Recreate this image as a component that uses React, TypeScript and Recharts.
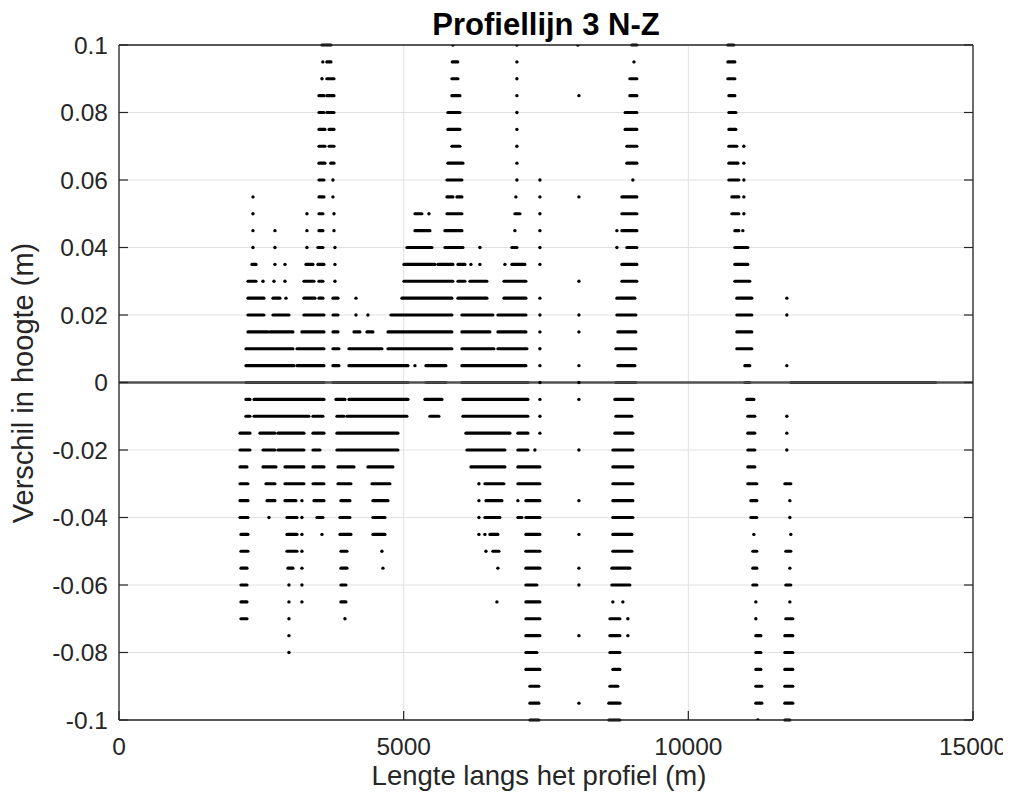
import React from 'react';
import { ScatterChart, Scatter, XAxis, YAxis, CartesianGrid, ReferenceLine } from 'recharts';

type Run = number | [number, number];

const titleText = 'Profiellijn 3 N-Z';
const xLabelText = 'Lengte langs het profiel (m)';
const yLabelText = 'Verschil in hoogte (m)';
const xTicks = [0, 5000, 10000, 15000];
const yTicks = [-0.1, -0.08, -0.06, -0.04, -0.02, 0, 0.02, 0.04, 0.06, 0.08, 0.1];

// Height-difference levels (m) and the along-profile distances (m) where points occur.
// A number is one point; a pair is a dense run of points between the two distances.
const p100: Run[] = [[3565, 3723], 5865, 6989, 8060, [9008, 9096], [10694, 10799]];
const p095: Run[] = [3580, [3650, 3723], [5855, 5950], 6989, 9045, [10694, 10817]];
const p090: Run[] = [3565, [3650, 3776], [5847, 5953], 6989, [8973, 9096], [10694, 10817]];
const p085: Run[] = [[3512, 3600], [3650, 3776], [5847, 5988], 6989, 8078, [8973, 9096], [10712, 10817]];
const p080: Run[] = [[3512, 3600], [3650, 3776], [5777, 5988], 6989, [8890, 9096], [10712, 10835]];
const p075: Run[] = [[3512, 3617], [3690, 3776], [5777, 5988], 6989, [8890, 9096], [10712, 10835]];
const p070: Run[] = [[3512, 3617], [3690, 3776], [5847, 5988], 6989, [8920, 9096], [10712, 10852], 10975];
const p065: Run[] = [[3512, 3617], [3720, 3776], [5777, 6041], 6989, [8920, 9096], [10712, 10870], 10975];
const p060: Run[] = [[3512, 3600], 3758, [5760, 6023], 6989, 7393, 9026, [10712, 10887], 10975];
const p055: Run[] = [2353, [3512, 3600], 3758, [5760, 5865], [5935, 6023], 6971, 7393, 8078, [8833, 9096], [10764, 10887], 10975];
const p050: Run[] = [2353, 3301, [3512, 3582], 3776, [5198, 5321], 5444, [5760, 6023], [6954, 7042], 7393, [8833, 9096], [10764, 10887], 10975];
const p045: Run[] = [2353, 2739, 3301, [3512, 3582], 3776, [5198, 5461], [5725, 6023], 6954, 7393, 8745, [8833, 9096], [10817, 10887], 10957];
const p040: Run[] = [2353, 2739, 3301, [3494, 3582], 3793, [5057, 5496], [5725, 6041], 6339, [6901, 6989], 7393, 8745, [8920, 9096], [10817, 11045]];
const p035: Run[] = [[2335, 2406], 2739, 2915, [3284, 3407], [3494, 3600], 3793, [5005, 5549], [5602, 5865], [5953, 6076], 6181, 6339, 6778, [6901, 7129], 7393, [8833, 9096], [10817, 11045]];
const p030: Run[] = [[2265, 2406], 2529, 2722, 2915, [3248, 3424], [3512, 3582], 3793, [5005, 5865], [5953, 6076], [6164, 6462], [6761, 7147], 8078, [8833, 9096], [10817, 11080]];
const p025: Run[] = [[2265, 2546], [2704, 2827], 2933, [3248, 3442], [3512, 3582], [3758, 3846], 4162, [4969, 5847], [5953, 6462], [6761, 7147], 7393, [8745, 9061], [10852, 11115], 11730];
const p020: Run[] = [[2265, 2546], [2704, 2985], [3248, 3600], [3758, 3846], 4162, 4372, [4776, 5847], [6023, 6567], [6655, 7147], 7393, 8078, [8745, 9078], [10852, 11115], 11730];
const p015: Run[] = [[2265, 2616], [2652, 3055], [3213, 3600], [3758, 3846], [4127, 4232], [4355, 4460], [4724, 5847], [6023, 6515], [6655, 7147], 7393, 8078, [8762, 9078], [10852, 11115]];
const p010: Run[] = [[2230, 3055], [3126, 3600], [3758, 3863], [4039, 4618], [4724, 5847], [6023, 6585], [6655, 7165], 7393, [8727, 9078], [10852, 11115]];
const p005: Run[] = [[2230, 3073], [3126, 3600], [3758, 3863], [4039, 5075], 5198, [5391, 5742], [6023, 7147], 7393, 8078, [8762, 9061], [10993, 11080], 11730];
const z000: Run[] = [[2230, 3600], [3758, 5075], [5391, 5742], [6023, 7182], 7393, 8078, [8727, 9078], [10993, 11080], [11800, 14347]];
const m005: Run[] = [[2230, 2300], [2371, 3600], [3811, 3969], [4039, 5075], [5373, 5672], [6041, 7182], 7393, 8078, [8710, 9026], [11028, 11151]];
const m010: Run[] = [[2230, 2300], [2371, 3336], [3407, 3582], [3828, 3951], [4004, 5057], [5461, 5619], [6041, 7182], 7393, [8727, 9008], [11045, 11168], 11730];
const m015: Run[] = [[2125, 2300], [2476, 2739], [2792, 3248], [3407, 3600], [3828, 4899], [6093, 6866], [7006, 7182], 7393, [8710, 9026], [11045, 11168], 11730];
const m020: Run[] = [[2125, 2300], [2529, 2739], [2792, 3248], [3407, 3530], [3828, 4899], [6111, 6778], [7006, 7182], 7305, 8078, [8674, 9026], [11045, 11168], 11730];
const m025: Run[] = [[2125, 2248], [2529, 2757], [2915, 3248], [3407, 3600], [3846, 4127], [4372, 4811], [6181, 6778], [7006, 7393], [8674, 9026], [11045, 11168]];
const m030: Run[] = [[2125, 2265], [2581, 2739], [2915, 3248], [3407, 3600], [3846, 4074], [4443, 4759], 6322, [6427, 6761], [7006, 7393], [8674, 9026], [11045, 11203], [11695, 11800]];
const m035: Run[] = [[2125, 2265], [2599, 2739], [2915, 3108], 3213, [3424, 3600], [3898, 4056], [4460, 4724], 6322, [6445, 6725], 7006, [7147, 7393], 8078, [8674, 9026], [11098, 11203], 11783];
const m040: Run[] = [[2125, 2265], 2634, [2950, 3126], 3213, [3477, 3582], [3881, 4056], [4460, 4671], 6322, [6427, 6690], [7006, 7077], [7147, 7393], [8674, 9026], [11098, 11203], 11783];
const m045: Run[] = [[2142, 2265], [2950, 3126], 3213, 3565, [3881, 4074], [4460, 4671], 6322, 6427, [6515, 6655], [7147, 7393], 8078, [8674, 9008], 11151, 11800];
const m050: Run[] = [[2142, 2265], [2950, 3126], 3213, [3898, 4004], 4618, 6445, [6567, 6673], [7147, 7393], [8674, 9008], [11133, 11203], [11712, 11800]];
const m055: Run[] = [[2142, 2248], [2968, 3055], 3213, [3898, 4004], 4636, 6655, [7147, 7393], 8078, [8657, 8973], [11133, 11203], 11783];
const m060: Run[] = [[2142, 2248], 2985, 3213, [3898, 3986], [7147, 7340], 8078, [8657, 8973], [11133, 11203], [11712, 11800]];
const m065: Run[] = [[2142, 2248], 2985, 3213, [3898, 3986], 6638, [7147, 7393], 8674, 8850, 11186, 11783];
const m070: Run[] = [[2142, 2248], 2985, 3969, [7147, 7393], [8622, 8798], 8938, 11186, [11712, 11835]];
const m075: Run[] = [2985, [7147, 7393], 8078, [8622, 8798], 8938, [11186, 11274], [11695, 11835]];
const m080: Run[] = [2985, [7147, 7340], [8622, 8798], [11186, 11274], [11695, 11835]];
const m085: Run[] = [[7147, 7393], [8674, 8798], [11186, 11274], [11695, 11835]];
const m090: Run[] = [[7217, 7375], [8622, 8762], [11186, 11290], [11695, 11835]];
const m095: Run[] = [[7217, 7375], 8078, [8604, 8798], [11186, 11290], [11695, 11835]];
const m100: Run[] = [[7217, 7375], [8604, 8798], 11221, [11695, 11783]];

const levelValues = [
  0.1, 0.095, 0.09, 0.085, 0.08, 0.075, 0.07, 0.065, 0.06, 0.055, 0.05, 0.045, 0.04, 0.035, 0.03, 0.025, 0.02, 0.015, 0.01, 0.005,
  0,
  -0.005, -0.01, -0.015, -0.02, -0.025, -0.03, -0.035, -0.04, -0.045, -0.05, -0.055, -0.06, -0.065, -0.07, -0.075, -0.08, -0.085, -0.09, -0.095, -0.1,
];
const levelRuns = [
  p100, p095, p090, p085, p080, p075, p070, p065, p060, p055, p050, p045, p040, p035, p030, p025, p020, p015, p010, p005,
  z000,
  m005, m010, m015, m020, m025, m030, m035, m040, m045, m050, m055, m060, m065, m070, m075, m080, m085, m090, m095, m100,
];

const singles: { x: number; y: number }[] = [];
const segments: { y: number; x1: number; x2: number }[] = [];
levelValues.forEach((y, i) => {
  levelRuns[i].forEach((r) => {
    if (Array.isArray(r)) segments.push({ y, x1: r[0], x2: r[1] });
    else singles.push({ x: r, y });
  });
});

const FONT = '"Liberation Sans", Arial, Helvetica, sans-serif';
const AX = '#262626';
const W = 995;
const H = 780;
const TICK_FS = 24.5;

const LeftTick = (props: any) => {
  const { x, y, payload } = props;
  return (
    <g>
      <line x1={x} y1={y} x2={x + 9} y2={y} stroke={AX} strokeWidth={1.2} />
      <text x={x - 11} y={y} dy="0.36em" textAnchor="end" fontSize={TICK_FS} fill={AX} fontFamily={FONT}>
        {String(payload.value)}
      </text>
    </g>
  );
};
const RightTick = (props: any) => {
  const { x, y } = props;
  return <line x1={x} y1={y} x2={x - 9} y2={y} stroke={AX} strokeWidth={1.2} />;
};
const BottomTick = (props: any) => {
  const { x, y, payload } = props;
  return (
    <g>
      <line x1={x} y1={y} x2={x} y2={y - 9} stroke={AX} strokeWidth={1.2} />
      <text x={x} y={y + 35} textAnchor="middle" fontSize={TICK_FS} fill={AX} fontFamily={FONT}>
        {String(payload.value)}
      </text>
    </g>
  );
};
const TopTick = (props: any) => {
  const { x, y } = props;
  return <line x1={x} y1={y} x2={x} y2={y + 9} stroke={AX} strokeWidth={1.2} />;
};

const Dot = (props: any) => <circle cx={props.cx} cy={props.cy} r={1.7} fill="#000" />;

export default function App() {
  return (
    <div style={{ position: 'relative', width: W, height: 787, background: '#fff' }}>
      <style>{'.recharts-surface{overflow:visible}'}</style>
      <ScatterChart width={W} height={H} margin={{ top: 27, right: 20, bottom: 28, left: 0 }}>
        <CartesianGrid xAxisId="b" yAxisId="l" stroke="#e0e0e0" strokeWidth={1} />
        <XAxis
          xAxisId="b"
          type="number"
          dataKey="x"
          domain={[0, 15000]}
          ticks={xTicks}
          interval={0}
          allowDataOverflow
          height={40}
          tickSize={0}
          tickMargin={0}
          tickLine={false}
          axisLine={{ stroke: AX, strokeWidth: 1.3 }}
          tick={(p: any) => <BottomTick {...p} />}
        />
        <XAxis
          xAxisId="t"
          orientation="top"
          type="number"
          domain={[0, 15000]}
          ticks={xTicks}
          interval={0}
          allowDataOverflow
          height={10}
          tickSize={0}
          tickMargin={0}
          tickLine={false}
          axisLine={{ stroke: AX, strokeWidth: 1.3 }}
          tick={(p: any) => <TopTick {...p} />}
        />
        <YAxis
          yAxisId="l"
          type="number"
          dataKey="y"
          domain={[-0.1, 0.1]}
          ticks={yTicks}
          interval={0}
          allowDataOverflow
          width={111}
          tickSize={0}
          tickMargin={0}
          tickLine={false}
          axisLine={{ stroke: AX, strokeWidth: 1.3 }}
          tick={(p: any) => <LeftTick {...p} />}
        />
        <YAxis
          yAxisId="r"
          orientation="right"
          type="number"
          domain={[-0.1, 0.1]}
          ticks={yTicks}
          interval={0}
          allowDataOverflow
          width={10}
          tickSize={0}
          tickMargin={0}
          tickLine={false}
          axisLine={{ stroke: AX, strokeWidth: 1.3 }}
          tick={(p: any) => <RightTick {...p} />}
        />
        {segments.map((s, i) => (
          <ReferenceLine
            key={'s' + i}
            xAxisId="b"
            yAxisId="l"
            segment={[{ x: s.x1, y: s.y }, { x: s.x2, y: s.y }]}
            stroke="#000"
            strokeWidth={3.2}
            strokeLinecap="round"
            ifOverflow="visible"
          />
        ))}
        <Scatter xAxisId="b" yAxisId="l" data={singles} shape={Dot} isAnimationActive={false} />
        <ReferenceLine xAxisId="b" yAxisId="l" y={0} stroke="#505050" strokeWidth={2.4} ifOverflow="visible" />
      </ScatterChart>
      <svg
        width={W}
        height={787}
        style={{ position: 'absolute', left: 0, top: 0, pointerEvents: 'none', overflow: 'visible' }}
      >
        <text x={538} y={27} textAnchor="middle" fontSize={31} fontWeight="bold" fill="#000" fontFamily={FONT}>
          {titleText}
        </text>
        <text x={531} y={777} textAnchor="middle" fontSize={27.5} fill={AX} fontFamily={FONT}>
          {xLabelText}
        </text>
        <text
          x={25}
          y={375}
          textAnchor="middle"
          fontSize={29}
          fill={AX}
          fontFamily={FONT}
          transform="rotate(-90 25 375)"
        >
          {yLabelText}
        </text>
      </svg>
    </div>
  );
}
